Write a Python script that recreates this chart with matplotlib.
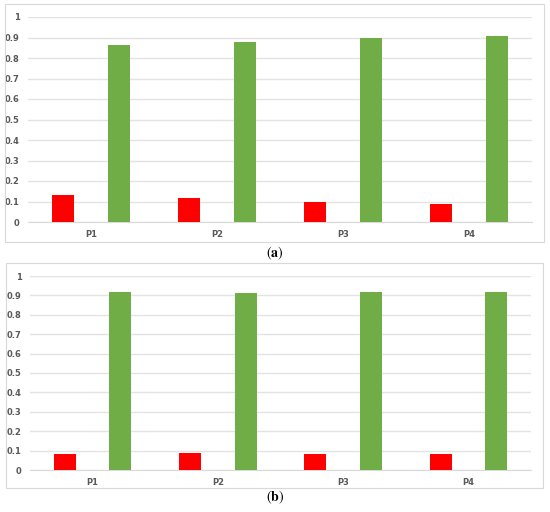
import numpy as np
import matplotlib
matplotlib.use("Agg")
import matplotlib.pyplot as plt
from matplotlib.patches import Rectangle

# Values
categories = ["P1", "P2", "P3", "P4"]
red_a = [0.132, 0.115, 0.098, 0.086]
green_a = [0.865, 0.880, 0.898, 0.908]
red_b = [0.080, 0.090, 0.080, 0.080]
green_b = [0.920, 0.910, 0.920, 0.920]
yticks = [0, 0.1, 0.2, 0.3, 0.4, 0.5, 0.6, 0.7, 0.8, 0.9, 1]
ytick_labels = ["0", "0.1", "0.2", "0.3", "0.4", "0.5", "0.6", "0.7", "0.8", "0.9", "1"]

plt.rcParams["mathtext.fontset"] = "stix"

RED = "#ff0000"
GREEN = "#70ad47"
GRID = "#e3e3e3"
TXT = "#595959"


# Draw one panel of grouped bars
def draw_panel(ax, red, green):
    x = np.arange(len(categories))
    w = 0.175
    ax.bar(x - 0.222, red, width=w, color=RED, zorder=3)
    ax.bar(x + 0.222, green, width=w, color=GREEN, zorder=3)
    ax.set_xlim(-0.5, len(categories) - 0.5)
    ax.set_ylim(0, 1)
    ax.set_yticks(yticks)
    ax.set_yticklabels(ytick_labels)
    ax.set_xticks(x)
    ax.set_xticklabels(categories)
    for lab in ax.get_xticklabels() + ax.get_yticklabels():
        lab.set_fontweight("bold")
        lab.set_color(TXT)
        lab.set_fontsize(6)
    ax.tick_params(axis="both", length=0)
    ax.tick_params(axis="y", pad=6)
    ax.tick_params(axis="x", pad=6)
    ax.grid(axis="y", color=GRID, linewidth=1, zorder=0)
    for s in ["top", "right", "left"]:
        ax.spines[s].set_visible(False)
    ax.spines["bottom"].set_color("#d9d9d9")
    ax.set_facecolor("none")


fig = plt.figure(figsize=(5.5, 5.12), dpi=100)

# light frames around each chart
fig.patches.append(Rectangle((5 / 550, 1 - 242 / 512), 539 / 550, 238 / 512,
                             transform=fig.transFigure, fill=False,
                             edgecolor="#d9d9d9", linewidth=0.8))
fig.patches.append(Rectangle((6 / 550, 1 - 488 / 512), 537 / 550, 225 / 512,
                             transform=fig.transFigure, fill=False,
                             edgecolor="#d9d9d9", linewidth=0.8))

ax_a = fig.add_axes([28 / 550, 1 - 222 / 512, 504 / 550, 205 / 512])
draw_panel(ax_a, red_a, green_a)

ax_b = fig.add_axes([30 / 550, 1 - 470 / 512, 501 / 550, 194 / 512])
draw_panel(ax_b, red_b, green_b)

fig.text(0.5, 1 - 253 / 512, r"(${\bf a}$)", ha="center", va="center",
         fontsize=10, family="STIXGeneral")
fig.text(0.5, 1 - 497 / 512, r"(${\bf b}$)", ha="center", va="center",
         fontsize=10, family="STIXGeneral")

fig.savefig("out.png", dpi=100, facecolor="white")
